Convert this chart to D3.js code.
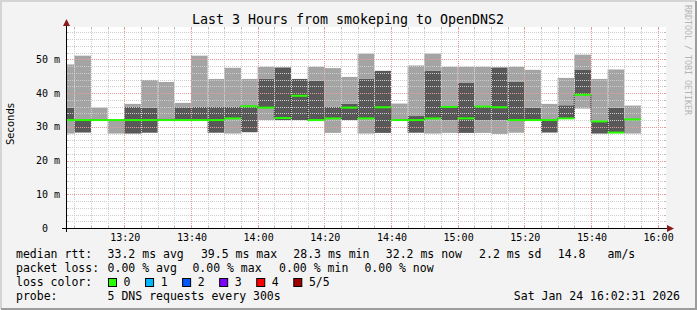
<!DOCTYPE html>
<html>
<head>
<meta charset="utf-8">
<script src="https://cdn.jsdelivr.net/npm/d3@7"></script>
<style>
  body { margin: 0; background: #f3f3f3; }
  svg { display: block; }
  text { font-family: "DejaVu Sans Mono", monospace; fill: #000; white-space: pre; }
</style>
</head>
<body>
<svg id="chart"></svg>
<script>
// 5-minute steps, value stamped at the end of each step
var times = ["13:05", "13:10", "13:15", "13:20", "13:25", "13:30", "13:35", "13:40", "13:45", "13:50",
             "13:55", "14:00", "14:05", "14:10", "14:15", "14:20", "14:25", "14:30", "14:35", "14:40",
             "14:45", "14:50", "14:55", "15:00", "15:05", "15:10", "15:15", "15:20", "15:25", "15:30",
             "15:35", "15:40", "15:45", "15:50", "15:55"];

// sorted ping values per step (ms), ping3 is the median
var ping1 = [28.0, 28.3, 32.0, 28.0, 28.0, 28.25, 32.0, 32.0, 32.0, 28.25,
             28.0, 28.4, 32.0, 32.0, 32.0, 32.0, 28.2, 32.0, 28.0, 28.2,
             32.0, 28.25, 28.0, 28.2, 28.2, 28.2, 27.9, 28.25, 32.0, 28.3,
             32.5, 35.4, 28.0, 28.25, 28.0];
var ping2 = [32.0, 28.3, 32.0, 32.0, 28.0, 28.25, 32.0, 32.0, 32.0, 28.25,
             32.5, 28.4, 35.7, 32.0, 32.0, 32.0, 32.5, 32.0, 32.5, 28.2,
             32.0, 28.25, 32.5, 32.0, 28.2, 32.0, 32.0, 32.0, 32.0, 28.3,
             32.5, 39.5, 28.0, 28.25, 32.2];
var ping3 = [32.0, 32.0, 32.0, 32.0, 32.0, 32.0, 32.0, 32.0, 32.0, 32.0,
             32.5, 36.1, 35.7, 32.6, 39.2, 32.0, 32.5, 35.7, 32.5, 35.8,
             32.0, 32.0, 32.5, 35.9, 32.5, 36.0, 35.8, 32.0, 32.0, 32.0,
             32.5, 39.5, 31.6, 28.3, 32.2];
var ping4 = [35.7, 32.0, 32.0, 32.0, 35.9, 35.7, 32.5, 35.8, 35.9, 35.9,
             35.9, 36.1, 44.2, 47.6, 44.2, 43.6, 35.9, 36.9, 44.2, 46.6,
             32.0, 33.2, 46.7, 35.9, 43.0, 36.0, 47.6, 43.3, 35.6, 32.0,
             36.4, 47.0, 31.8, 35.65, 32.2];
var ping5 = [48.5, 51.1, 35.7, 32.0, 36.8, 43.9, 43.3, 37.1, 51.1, 44.2,
             47.5, 44.2, 47.8, 47.6, 44.2, 47.8, 47.4, 44.8, 51.7, 46.6,
             36.9, 48.2, 51.7, 47.8, 47.8, 47.8, 47.6, 47.8, 46.9, 36.8,
             44.5, 51.4, 44.2, 47.0, 36.3];

var yTicks = [0, 10, 20, 30, 40, 50];
var xTickTimes = ["13:20", "13:40", "14:00", "14:20", "14:40", "15:00", "15:20", "15:40", "16:00"];

var rttStats = ["33.2 ms avg", "39.5 ms max", "28.3 ms min", "32.2 ms now", "2.2 ms sd", "14.8", "am/s"];
var lossStats = ["0.00 % avg", "0.00 % max", "0.00 % min", "0.00 % now"];
var lossLabels = ["0", "1", "2", "3", "4", "5/5"];
var lossColors = ["#26ff00", "#00b8ff", "#0059ff", "#7e00ff", "#ff0000", "#a00000"];

var title = "Last 3 Hours from smokeping to OpenDNS2";
var probeText = "5 DNS requests every 300s";
var stamp = "Sat Jan 24 16:02:31 2026";

// layout (x offsets of legend pieces)
var rttX = [107.6, 200.9, 293.3, 385.8, 479.1, 557.8, 607.6];
var lossX = [107.6, 192.4, 279.1, 364.4];

drawChart();

function drawChart() {
    var W = 697, H = 310;
    var pLeft = 66, pRight = 666, pTop = 27, pBottom = 228;

    var day = "2026-01-24 ";
    var parseMin = d3.timeParse("%Y-%m-%d %H:%M");
    var parseSec = d3.timeParse("%Y-%m-%d %H:%M:%S");

    var svg = d3.select("#chart").attr("width", W).attr("height", H);

    // frame
    svg.append("rect").attr("width", W).attr("height", H).attr("fill", "#f3f3f3");
    svg.append("path").attr("d", "M1,309 V1 H696").attr("fill", "none").attr("stroke", "#d4d4d4").attr("stroke-width", 2);
    svg.append("path").attr("d", "M1,309 H696 V1").attr("fill", "none").attr("stroke", "#9c9c9c").attr("stroke-width", 2);

    var x = d3.scaleTime()
              .domain([parseSec(day + "13:02:31"), parseSec(day + "16:02:31")])
              .range([pLeft, pRight]);

    var y = d3.scaleLinear()
              .domain([0, 59.6])
              .range([pBottom, pTop]);

    svg.append("rect")
        .attr("x", pLeft).attr("y", pTop)
        .attr("width", pRight - pLeft).attr("height", pBottom - pTop)
        .attr("fill", "#ffffff");

    svg.append("clipPath").attr("id", "plot")
       .append("rect")
        .attr("x", pLeft).attr("y", pTop)
        .attr("width", pRight - pLeft).attr("height", pBottom - pTop);

    var data = times.map(function(t, i) {
        var end = parseMin(day + t);
        return {
            start: d3.timeMinute.offset(end, -5),
            end: end,
            p: [ping1[i], ping2[i], ping3[i], ping4[i], ping5[i]]
        };
    });

    // smoke: light outer bands, dark inner band around the median
    var smoke = svg.append("g").attr("clip-path", "url(#plot)");
    var bands = [[0, 1, "#a4a4a4"], [1, 3, "#585858"], [3, 4, "#a4a4a4"]];

    bands.forEach(function(b) {
        smoke.selectAll(null)
            .data(data)
            .enter()
            .append("rect")
              .attr("x", d => x(d.start))
              .attr("width", d => x(d.end) - x(d.start))
              .attr("y", d => y(d.p[b[1]]))
              .attr("height", d => y(d.p[b[0]]) - y(d.p[b[1]]))
              .attr("fill", b[2]);
    });

    // grid, drawn over the smoke like rrdtool does
    var grid = svg.append("g");
    var minorTimes = d3.timeMinute.every(5).range(x.domain()[0], x.domain()[1]);

    minorTimes.forEach(function(t) {
        var major = t.getMinutes() % 20 === 0;
        var xx = Math.round(x(t)) + 0.5;
        grid.append("line")
            .attr("x1", xx).attr("x2", xx).attr("y1", pTop).attr("y2", pBottom)
            .attr("stroke", major ? "#e79a9a" : "#cdcdcd")
            .attr("stroke-dasharray", "1,1");
        [pTop, pBottom - 2].forEach(function(yy) {
            grid.append("line")
                .attr("x1", xx).attr("x2", xx).attr("y1", yy).attr("y2", yy + 2)
                .attr("stroke", major ? "#e79a9a" : "#bdbdbd");
        });
    });

    d3.range(2, 59, 2).forEach(function(v) {
        var major = v % 10 === 0;
        var yy = Math.round(y(v)) + 0.5;
        grid.append("line")
            .attr("x1", pLeft).attr("x2", pRight).attr("y1", yy).attr("y2", yy)
            .attr("stroke", major ? "#e79a9a" : "#cdcdcd")
            .attr("stroke-dasharray", "1,1");
        [pLeft, pRight - 2].forEach(function(xx) {
            grid.append("line")
                .attr("x1", xx).attr("x2", xx + 2).attr("y1", yy).attr("y2", yy)
                .attr("stroke", major ? "#e79a9a" : "#bdbdbd");
        });
    });

    // median: dotted step line plus green loss-coloured segments
    var stepPts = data.map(d => [x(d.start), y(d.p[2])]);
    var last = data[data.length - 1];
    stepPts.push([x(last.end), y(last.p[2])]);

    svg.append("path")
        .attr("clip-path", "url(#plot)")
        .attr("d", d3.line().curve(d3.curveStepAfter)(stepPts))
        .attr("fill", "none")
        .attr("stroke", "#202020")
        .attr("stroke-dasharray", "1,1");

    svg.append("g")
        .attr("clip-path", "url(#plot)")
        .selectAll("rect")
        .data(data)
        .enter()
        .append("rect")
          .attr("x", d => x(d.start))
          .attr("width", d => x(d.end) - x(d.start))
          .attr("y", d => y(d.p[2]) - 1)
          .attr("height", 2)
          .attr("fill", lossColors[0]);

    // axes
    svg.append("line")
        .attr("x1", pLeft - 4).attr("x2", pRight + 3).attr("y1", pBottom + 0.5).attr("y2", pBottom + 0.5)
        .attr("stroke", "#000");
    svg.append("line")
        .attr("x1", pLeft + 0.5).attr("x2", pLeft + 0.5).attr("y1", pBottom + 4).attr("y2", pTop - 3)
        .attr("stroke", "#000");
    svg.append("path")
        .attr("d", "M" + (pRight + 8) + "," + (pBottom + 0.5) + " l-7,-3.5 v7 z")
        .attr("fill", "#8b1a1a");
    svg.append("path")
        .attr("d", "M" + (pLeft + 0.5) + "," + (pTop - 8) + " l-3.5,7 h7 z")
        .attr("fill", "#8b1a1a");

    svg.append("g")
        .selectAll("text")
        .data(yTicks)
        .enter()
        .append("text")
          .attr("x", 60)
          .attr("y", d => y(d) + 3.5)
          .attr("font-size", "10px")
          .style("text-anchor", "end")
          .text(d => d === 0 ? "0  " : d + " m");

    var fmt = d3.timeFormat("%H:%M");
    svg.append("g")
        .selectAll("text")
        .data(xTickTimes.map(t => parseMin(day + t)))
        .enter()
        .append("text")
          .attr("x", d => x(d) + 1)
          .attr("y", 241)
          .attr("font-size", "10px")
          .style("text-anchor", "middle")
          .text(d => fmt(d));

    svg.append("text")
        .attr("transform", "translate(14,124) rotate(-90)")
        .attr("font-size", "10px")
        .style("font-family", "'DejaVu Sans', sans-serif")
        .style("text-anchor", "middle")
        .text("Seconds");

    svg.append("text")
        .attr("transform", "translate(685,5) rotate(90)")
        .attr("font-size", "8.3px")
        .style("fill", "#b4b4b4")
        .text("RRDTOOL / TOBI OETIKER");

    svg.append("text")
        .attr("x", 348)
        .attr("y", 24)
        .attr("font-size", "13.3px")
        .style("text-anchor", "middle")
        .text(title);

    // legend
    var legend = svg.append("g").attr("font-size", "11.5px");

    legend.append("text").attr("x", 16).attr("y", 258).text("median rtt:");
    rttStats.forEach(function(s, i) {
        legend.append("text").attr("x", rttX[i]).attr("y", 258).text(s);
    });

    legend.append("text").attr("x", 16).attr("y", 272).text("packet loss:");
    lossStats.forEach(function(s, i) {
        legend.append("text").attr("x", lossX[i]).attr("y", 272).text(s);
    });

    legend.append("text").attr("x", 16).attr("y", 286).text("loss color:");
    lossLabels.forEach(function(s, i) {
        var bx = 108 + i * 37.06;
        legend.append("rect")
            .attr("x", bx + 0.5).attr("y", 278.5)
            .attr("width", 8).attr("height", 8)
            .attr("fill", lossColors[i])
            .attr("stroke", "#000");
        legend.append("text").attr("x", bx + 15.6).attr("y", 286).text(s);
    });

    legend.append("text").attr("x", 16).attr("y", 300).text("probe:");
    legend.append("text").attr("x", 107.6).attr("y", 300).text(probeText);
    legend.append("text").attr("x", 680).attr("y", 300).style("text-anchor", "end").text(stamp);
}
</script>
</body>
</html>
